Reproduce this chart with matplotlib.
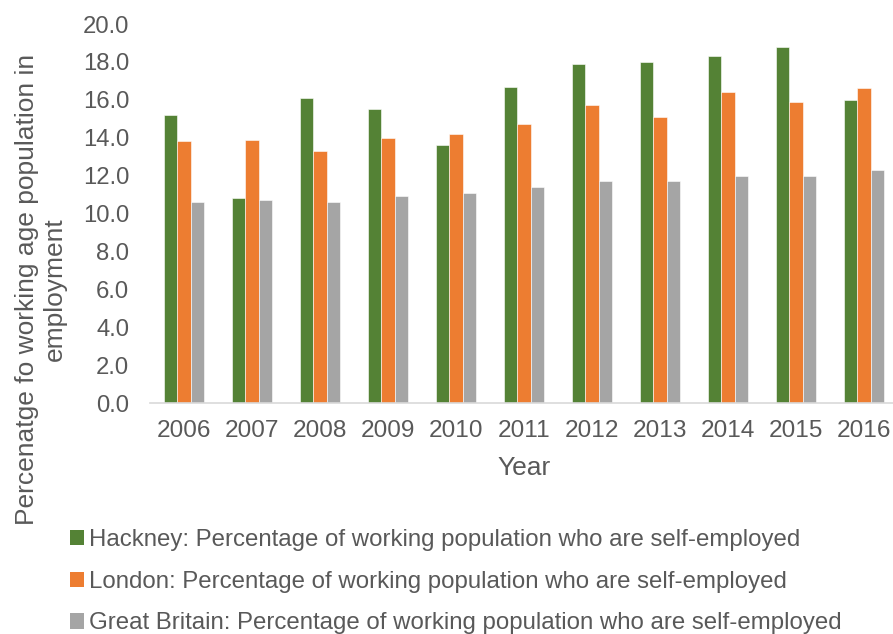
import matplotlib
matplotlib.use("Agg")
import matplotlib.pyplot as plt
import numpy as np
from matplotlib.patches import Patch

years = ["2006", "2007", "2008", "2009", "2010", "2011", "2012", "2013", "2014", "2015", "2016"]
hackney = [15.2, 10.8, 16.1, 15.5, 13.6, 16.7, 17.9, 18.0, 18.3, 18.8, 16.0]
london = [13.8, 13.9, 13.3, 14.0, 14.2, 14.7, 15.7, 15.1, 16.4, 15.9, 16.6]
gb = [10.6, 10.7, 10.6, 10.9, 11.1, 11.4, 11.7, 11.7, 12.0, 12.0, 12.3]
labels = [
    "Hackney: Percentage of working population who are self-employed",
    "London: Percentage of working population who are self-employed",
    "Great Britain: Percentage of working population who are self-employed",
]
colors = ["#548235", "#ED7D31", "#A5A5A5"]
yticks = [0.0, 2.0, 4.0, 6.0, 8.0, 10.0, 12.0, 14.0, 16.0, 18.0, 20.0]

plt.rcParams['font.family'] = ['Liberation Sans', 'DejaVu Sans']
W, H = 893, 634
fig = plt.figure(figsize=(W / 100, H / 100), dpi=100)
ax = fig.add_axes([150 / W, 1 - 403 / H, (893 - 150) / W, (403 - 24) / H])

x = np.arange(len(years))
bw = 0.196
for i, (vals, c) in enumerate(zip([hackney, london, gb], colors)):
    ax.bar(x + (i - 1) * bw, vals, width=bw, color=c, edgecolor="white", linewidth=0.4)

ax.set_xlim(-0.5, -0.5 + (893 - 150) / 68)
ax.set_ylim(0, 20)
ax.set_yticks(yticks)
ax.set_yticklabels([f"{v:.1f}" for v in yticks])
ax.set_xticks(x)
ax.set_xticklabels(years)
tc = "#595959"
ax.tick_params(axis="y", length=0, pad=15, labelsize=17.2, labelcolor=tc)
ax.tick_params(axis="x", length=0, pad=12, labelsize=17.6, labelcolor=tc)
for s in ["top", "right", "left"]:
    ax.spines[s].set_visible(False)
ax.spines["bottom"].set_color("#D9D9D9")
ax.spines["bottom"].set_linewidth(1.2)

fig.text(524 / W, 1 - 468 / H, "Year", ha="center", va="center", fontsize=19, color=tc)
fig.text(41 / W, 1 - 289 / H, "Percenatge fo working age population in\nemployment",
         rotation=90, ha="center", va="center", fontsize=19, color=tc, multialignment="center",
         linespacing=1.2)

handles = [Patch(facecolor=c, edgecolor="none") for c in colors]
fig.legend(handles, labels, loc="upper left", bbox_to_anchor=(70 / W, 1 - 529 / H),
           frameon=False, fontsize=17.3, handlelength=0.6, handleheight=0.6,
           handletextpad=0.2, labelspacing=0.82, labelcolor=tc, borderaxespad=0, borderpad=0)

fig.savefig("out.png", dpi=100)
